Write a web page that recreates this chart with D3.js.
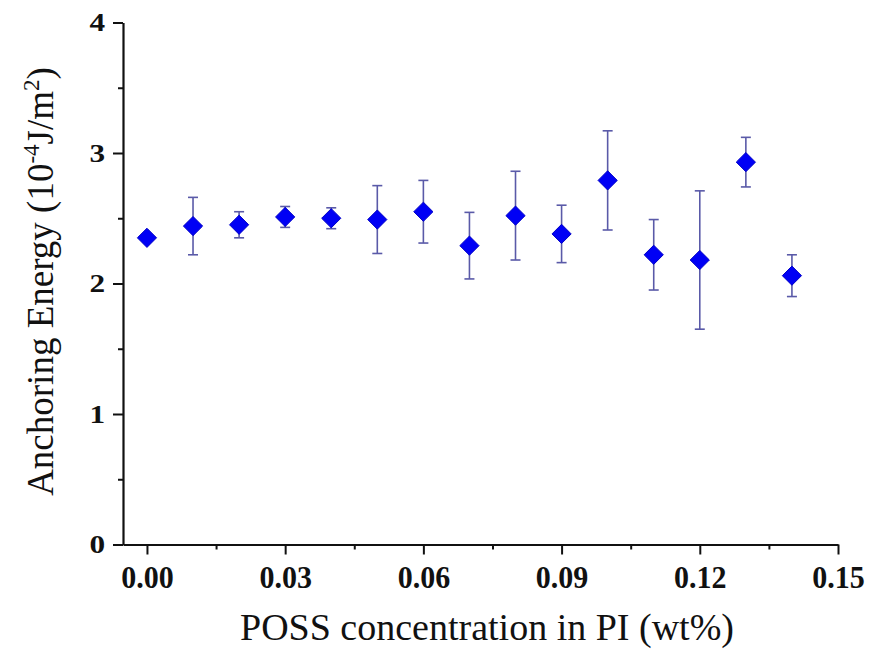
<!DOCTYPE html>
<html>
<head>
<meta charset="utf-8">
<script src="https://cdn.jsdelivr.net/npm/d3@7"></script>
<style>
  html, body { margin: 0; padding: 0; background: #fff; }
  svg { display: block; font-family: "Liberation Serif", "Times New Roman", serif; }
</style>
</head>
<body>
<svg id="chart" width="870" height="650"></svg>
<script>
// POSS loading (wt%) and measured anchoring energy (10^-4 J/m^2)
const concentrations = [0.00, 0.01, 0.02, 0.03, 0.04, 0.05, 0.06, 0.07, 0.08, 0.09, 0.10, 0.11, 0.12, 0.13, 0.14];
const anchoringEnergy = [2.35, 2.44, 2.45, 2.51, 2.50, 2.49, 2.55, 2.29, 2.52, 2.38, 2.79, 2.22, 2.18, 2.93, 2.06];
const errorValues = [0, 0.22, 0.10, 0.08, 0.08, 0.26, 0.24, 0.255, 0.34, 0.22, 0.38, 0.27, 0.53, 0.19, 0.16];
const xTickValues = [0.00, 0.03, 0.06, 0.09, 0.12, 0.15];
const xMinorTicks = [0.015, 0.045, 0.075, 0.105, 0.135];
const yTickValues = [0, 1, 2, 3, 4];
const yMinorTicks = [0.5, 1.5, 2.5, 3.5];

const svg = d3.select("#chart");

const x = d3.scaleLinear().domain([-0.0052, 0.15]).range([123, 838]);
const y = d3.scaleLinear().domain([0, 4]).range([544.5, 22.5]);

// Axes
const xAxis = d3.axisBottom(x).tickValues(xTickValues).tickFormat(d3.format(".2f")).tickSize(10).tickSizeOuter(0);
const xAxisMinor = d3.axisBottom(x).tickValues(xMinorTicks).tickFormat("").tickSize(5).tickSizeOuter(0);
const yAxis = d3.axisLeft(y).tickValues(yTickValues).tickFormat(d3.format("d")).tickSize(10).tickSizeOuter(0);
const yAxisMinor = d3.axisLeft(y).tickValues(yMinorTicks).tickFormat("").tickSize(5).tickSizeOuter(0);

const gx = svg.append("g").attr("transform", `translate(0,${y(0)})`);
gx.call(xAxis);
svg.append("g").attr("transform", `translate(0,${y(0)})`).call(xAxisMinor).select(".domain").remove();

const gy = svg.append("g").attr("transform", `translate(${x.range()[0]},0)`);
gy.call(yAxis);
svg.append("g").attr("transform", `translate(${x.range()[0]},0)`).call(yAxisMinor).select(".domain").remove();

svg.selectAll(".domain").attr("stroke", "#111").attr("stroke-width", 2.2);
svg.selectAll(".tick line").attr("stroke", "#111").attr("stroke-width", 2);

gx.selectAll(".tick text")
  .attr("y", 0).attr("dy", 0)
  .attr("transform", "translate(0,43) scale(1,1.08)")
  .attr("font-size", 30).attr("font-weight", "bold").attr("fill", "#111")
  .attr("font-family", "Liberation Serif");

gy.selectAll(".tick text")
  .attr("x", 0).attr("dy", 0)
  .attr("text-anchor", "end")
  .attr("transform", "translate(-18,8) scale(1.25,1)")
  .attr("font-size", 25).attr("font-weight", "bold").attr("fill", "#111")
  .attr("font-family", "Liberation Serif");

// Axis titles
svg.append("text")
  .attr("x", 487).attr("y", 640)
  .attr("text-anchor", "middle")
  .attr("font-size", 38).attr("fill", "#111")
  .text("POSS concentration in PI (wt%)");

const yTitle = svg.append("text")
  .attr("transform", `translate(53,${y(2) - 2}) rotate(-90)`)
  .attr("text-anchor", "middle")
  .attr("font-size", 37).attr("fill", "#111");
yTitle.append("tspan").text("Anchoring Energy (10");
yTitle.append("tspan").attr("font-size", 23).attr("dy", -14).text("-4");
yTitle.append("tspan").attr("dy", 14).text("J/m");
yTitle.append("tspan").attr("font-size", 23).attr("dy", -14).text("2");
yTitle.append("tspan").attr("dy", 14).text(")");

// Error bars
const points = concentrations.map((c, i) => ({ c, v: anchoringEnergy[i], e: errorValues[i] }));
const capHalf = 5;
const err = svg.append("g").attr("stroke", "#5a5aa8").attr("stroke-width", 1.6).attr("fill", "none");
points.filter(d => d.e > 0).forEach(d => {
  const cx = x(d.c), top = y(d.v + d.e), bot = y(d.v - d.e);
  err.append("line").attr("x1", cx).attr("x2", cx).attr("y1", top).attr("y2", bot);
  err.append("line").attr("x1", cx - capHalf).attr("x2", cx + capHalf).attr("y1", top).attr("y2", top);
  err.append("line").attr("x1", cx - capHalf).attr("x2", cx + capHalf).attr("y1", bot).attr("y2", bot);
});

// Diamond markers
const diamond = d3.symbol().type(d3.symbolDiamond2).size(235);
svg.append("g").selectAll("path")
  .data(points)
  .join("path")
  .attr("d", diamond)
  .attr("transform", d => `translate(${x(d.c)},${y(d.v)})`)
  .attr("fill", "#0000f5")
  .attr("stroke", "#0000c8")
  .attr("stroke-width", 1);
</script>
</body>
</html>
